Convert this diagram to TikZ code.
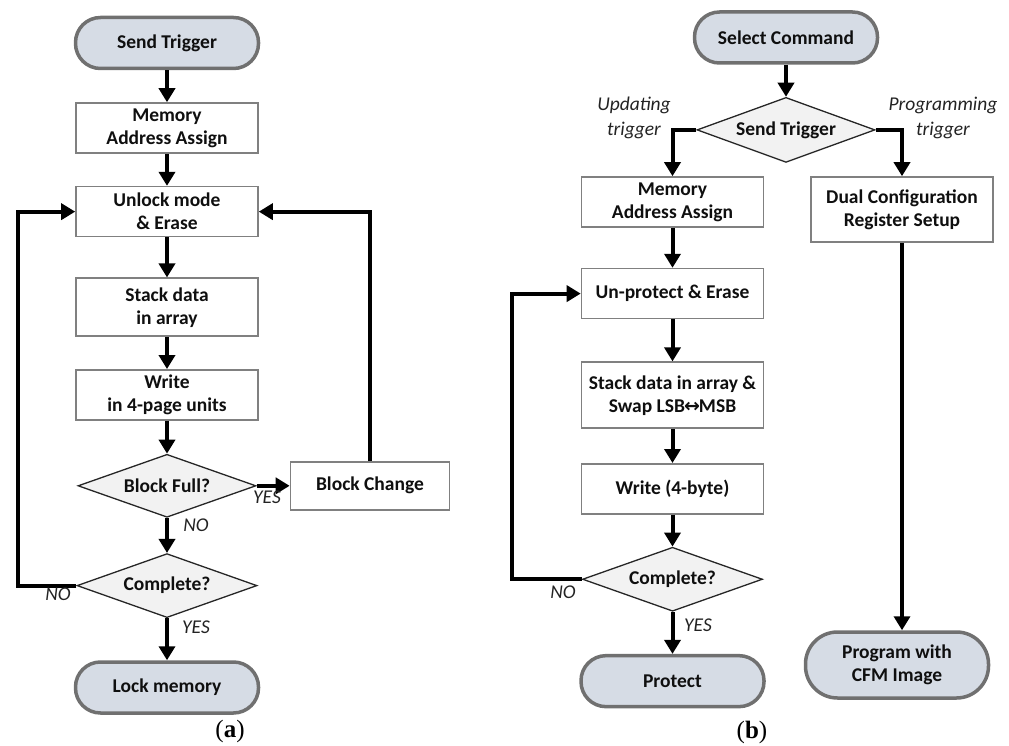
\documentclass[tikz,border=0pt]{standalone}
\usepackage{fontspec}
\setmainfont{Carlito}
\newfontfamily\capfont{Liberation Serif}
\newfontfamily\symfont{DejaVu Sans}
\usepackage{tikz}
\usetikzlibrary{
  arrows.meta,
  positioning,
  shapes.geometric
}
\definecolor{termfill}{RGB}{214,220,229}
\definecolor{termedge}{RGB}{112,112,112}
\definecolor{boxedge}{RGB}{128,128,128}
\definecolor{decfill}{RGB}{242,242,242}
\definecolor{decedge}{RGB}{38,38,38}
\definecolor{inkblack}{RGB}{15,15,15}
\definecolor{labgray}{RGB}{35,35,35}
\newcommand{\swaparrow}{{\symfont\fontsize{19pt}{23pt}\selectfont\kern-1pt\char"2194\kern-1pt}}
\tikzset{
  term/.style={draw=termedge,line width=3.5pt,fill=termfill,
    rounded corners=25pt,minimum width=183pt,minimum height=51pt,
    align=center,inner sep=2pt,text=inkblack,
    font=\fontsize{19.5pt}{23pt}\selectfont\bfseries},
  proc/.style={draw=boxedge,line width=1.6pt,fill=white,
    minimum width=182pt,minimum height=50pt,
    align=center,inner sep=2pt,text=inkblack,
    font=\fontsize{19.5pt}{23pt}\selectfont\bfseries},
  decide/.style={diamond,aspect=2.8,draw=decedge,line width=1.3pt,
    fill=decfill,minimum width=180pt,minimum height=64pt,inner sep=0pt,
    text=inkblack,font=\fontsize{19.5pt}{23pt}\selectfont\bfseries},
  flow/.style={-{Triangle[length=14pt,width=16pt]},line width=4pt,
    draw=black},
  lab/.style={align=center,inner sep=1pt,text=labgray,
    font=\fontsize{19.5pt}{25pt}\selectfont\itshape},
  caplab/.style={inner sep=1pt,font=\fontsize{25pt}{27pt}\selectfont\capfont}
}

\begin{document}
\begin{tikzpicture}[x=1pt,y=-1pt]
  \useasboundingbox (0,0) rectangle (1009,746);
  % (a) memory update
  \node[term] (trigA) at (167,43) {Send Trigger};
  \node[proc,below=32pt of trigA] (memA) {Memory\\Address Assign};
  \node[proc,below=32pt of memA] (unlockA) {Unlock mode\\\& Erase};
  \node[proc,below=40pt of unlockA,minimum height=58pt] (stackA) {Stack data\\in array};
  \node[proc,below=32pt of stackA] (writeA) {Write\\in 4-page units};
  \node[decide,below=33pt of writeA,minimum width=178pt,minimum height=63pt] (fullA) {Block Full?};
  \node[proc,right=33pt of fullA,minimum width=159pt,minimum height=48pt] (changeA) {Block Change};
  \node[decide,below=35pt of fullA] (completeA) {Complete?};
  \node[term,below=42pt of completeA] (lockA) {Lock memory};

  \draw[flow] (trigA)--(memA);
  \draw[flow] (memA)--(unlockA);
  \draw[flow] (unlockA)--(stackA);
  \draw[flow] (stackA)--(writeA);
  \draw[flow] (writeA)--(fullA);
  \draw[flow] (fullA)--(changeA);
  \draw[flow] (changeA.north) |- (unlockA.east);
  \draw[flow] (fullA)--(completeA);
  \draw[flow] (completeA.west) -- ++(-58,0) |- (unlockA.west);
  \draw[flow] (completeA)--(lockA);

  \node[lab] (yesFullA) at (267,497) {YES};
  \node[lab] (noFullA) at (196,525) {NO};
  \node[lab] (noCompA) at (58,594) {NO};
  \node[lab] (yesCompA) at (196,627) {YES};
  \node[caplab] (capA) at (230,731) {(\textbf{a})};

  % (b) command flow
  \node[term] (selB) at (786,37.5) {Select Command};
  \node[decide,below=32pt of selB,minimum width=178pt,minimum height=65pt] (sendB) {Send Trigger};
  \node[proc] (memB) at (672.5,202) {Memory\\Address Assign};
  \node[proc,minimum height=65pt] (dualB) at (902,209.5) {Dual Configuration\\Register Setup};
  \node[proc,below=40pt of memB] (unprotB) {Un-protect \& Erase};
  \node[proc,below=42pt of unprotB,minimum height=66pt] (stackB) {Stack data in array \&\\Swap LSB\swaparrow MSB};
  \node[proc,below=34pt of stackB] (writeB) {Write (4-byte)};
  \node[decide,below=32pt of writeB] (compB) {Complete?};
  \node[term,below=42pt of compB] (protB) {Protect};
  \node[term,rounded corners=32pt,minimum height=66pt] (progB) at (897,665) {Program with\\CFM Image};

  \draw[flow] (selB)--(sendB);
  \draw[flow] (sendB.west) -| (memB.north);
  \draw[flow] (sendB.east) -| (dualB.north);
  \draw[flow] (memB)--(unprotB);
  \draw[flow] (unprotB)--(stackB);
  \draw[flow] (stackB)--(writeB);
  \draw[flow] (writeB)--(compB);
  \draw[flow] (compB.west) -- ++(-70,0) |- (unprotB.west);
  \draw[flow] (compB)--(protB);
  \draw[flow] (dualB)--(progB.north -| dualB.south);

  \node[lab] (updB) at (634,118) {Updating\\trigger};
  \node[lab] (progTrigB) at (943,118) {Programming\\trigger};
  \node[lab] (noCompB) at (563,592) {NO};
  \node[lab] (yesCompB) at (698,625) {YES};
  \node[caplab] (capB) at (752,732) {(\textbf{b})};
\end{tikzpicture}
\end{document}
